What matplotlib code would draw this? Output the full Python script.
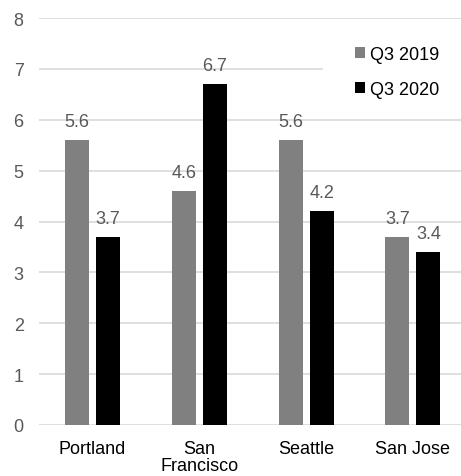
import numpy as np
import matplotlib.pyplot as plt
from matplotlib.patches import Rectangle

plt.rcParams['font.family'] = ['Liberation Sans', 'DejaVu Sans']

cities = ['Portland', 'San\nFrancisco', 'Seattle', 'San Jose']
q3_2019 = [5.6, 4.6, 5.6, 3.7]
q3_2020 = [3.7, 6.7, 4.2, 3.4]
series_names = ['Q3 2019', 'Q3 2020']

fig = plt.figure(figsize=(4.61, 4.77), dpi=100)
ax = fig.add_axes([39 / 461, 1 - 426 / 477, 1 - 39 / 461, (426 - 19) / 477])

x = np.arange(len(cities))
w = 0.225
off = 0.145
b1 = ax.bar(x - off, q3_2019, w, color='#808080', label=series_names[0], zorder=3)
b2 = ax.bar(x + off, q3_2020, w, color='#000000', label=series_names[1], zorder=3)

for bars in (b1, b2):
    for r in bars:
        ax.text(r.get_x() + r.get_width() / 2, r.get_height() + 0.2, f'{r.get_height():.1f}',
                ha='center', va='bottom', fontsize=13, color='#595959', zorder=4)

ax.set_ylim(0, 8)
ax.set_xlim(-0.5, 3.45)
ax.set_yticks(range(0, 9))
ax.set_xticks(x)
ax.set_xticklabels(cities, linespacing=0.95)
ax.yaxis.grid(True, color='#d9d9d9', linewidth=1.2, zorder=0)
for s in ax.spines.values():
    s.set_visible(False)
ax.tick_params(axis='both', length=0, labelsize=13, labelcolor='#595959')
ax.tick_params(axis='x', labelcolor='#000000', pad=11)
ax.tick_params(axis='y', pad=11)

# white box behind the legend hides the gridline, like the original
ax.add_patch(Rectangle((0.673, 0.781), 0.327, 0.192, transform=ax.transAxes,
                       facecolor='white', edgecolor='none', zorder=4, clip_on=False))

leg = ax.legend(loc='upper left', bbox_to_anchor=(0.749, 0.931), frameon=False,
                fontsize=13, handlelength=0.55, handleheight=0.55, handletextpad=0.25,
                labelspacing=1.0, borderpad=0.0, borderaxespad=0.0)
leg.set_zorder(5)

fig.savefig('out.png', dpi=100)
